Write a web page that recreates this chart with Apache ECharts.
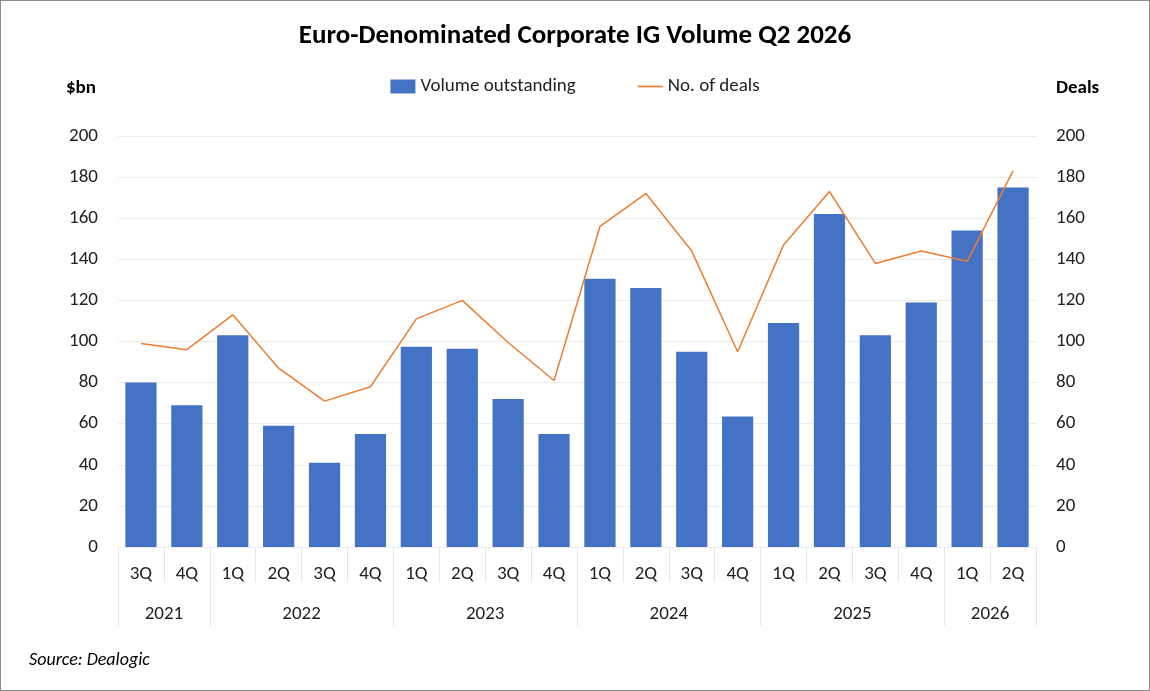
<!DOCTYPE html>
<html>
<head>
<meta charset="utf-8">
<script src="https://cdn.jsdelivr.net/npm/echarts@6/dist/echarts.min.js"></script>
<style>
html,body{margin:0;padding:0;background:#fff;}
#main{width:1148px;height:689px;border:1px solid #8c8c8c;}
</style>
</head>
<body>
<div id="main"></div>
<script>
var quarters = ['3Q','4Q','1Q','2Q','3Q','4Q','1Q','2Q','3Q','4Q','1Q','2Q','3Q','4Q','1Q','2Q','3Q','4Q','1Q','2Q'];
var years = ['2021','2022','2023','2024','2025','2026'];
// year label positions (in quarters from left edge) and year boundary indices
var yearCenters = [1, 4, 8, 12, 16, 19];
var yearBounds = [0, 2, 6, 10, 14, 18, 20];
var volume = [80, 69, 103, 59, 41, 55, 97.5, 96.5, 72, 55, 130.5, 126, 95, 63.5, 109, 162, 103, 119, 154, 175];
var deals = [99, 96, 113, 87, 71, 78, 111, 120, 99.5, 81, 156, 172, 144, 95, 147, 173, 138, 144, 139, 183];

var font = 'Calibri, Carlito, "Liberation Sans", sans-serif';
var chart = echarts.init(document.getElementById('main'));
chart.setOption({
    textStyle: {fontFamily: font},
    title: {
        text: 'Euro-Denominated Corporate IG Volume Q2 2026',
        left: 'center', top: 17,
        textStyle: {fontSize: 27, fontWeight: 'bold', color: '#000', fontFamily: font}
    },
    legend: {
        top: 71, left: 'center', itemGap: 62,
        textStyle: {fontSize: 19, color: '#222', fontFamily: font},
        data: [
            {name: 'Volume outstanding', icon: 'rect', itemWidth: 18, itemHeight: 15},
            {name: 'No. of deals', icon: 'path://M0,0h30v2h-30z', itemWidth: 22, itemHeight: 2}
        ]
    },
    grid: {left: 117, right: 113, top: 135, bottom: 143},
    xAxis: [{
        type: 'category', data: quarters, position: 'bottom',
        axisLine: {show: false},
        axisTick: {show: true, length: 35, lineStyle: {color: '#e6e6e6'}},
        axisLabel: {fontSize: 19, color: '#222', margin: 18}
    }, {
        type: 'category', data: quarters, position: 'bottom',
        axisLine: {show: false}, axisLabel: {show: false},
        axisTick: {show: true, length: 79, lineStyle: {color: '#e6e6e6'},
            interval: function (i) { return yearBounds.indexOf(i) >= 0; }}
    }, {
        type: 'value', min: 0, max: 20, interval: 1, position: 'bottom', offset: 40,
        axisLine: {show: false}, axisTick: {show: false}, splitLine: {show: false},
        axisLabel: {fontSize: 19, color: '#222', margin: 18, showMinLabel: true, showMaxLabel: true,
            formatter: function (v) { var k = yearCenters.indexOf(v); return k >= 0 ? years[k] : ''; }}
    }],
    yAxis: [{
        type: 'value', min: 0, max: 200, interval: 20,
        name: '$bn', nameLocation: 'end', nameGap: 38,
        nameTextStyle: {fontSize: 19, fontWeight: 'bold', color: '#000', align: 'right', padding: [0, 22, 0, 0]},
        axisLine: {show: false}, axisTick: {show: false},
        axisLabel: {fontSize: 19, color: '#222', margin: 20},
        splitLine: {lineStyle: {color: '#ececec'}}
    }, {
        type: 'value', min: 0, max: 200, interval: 20,
        name: 'Deals', nameLocation: 'end', nameGap: 38,
        nameTextStyle: {fontSize: 19, fontWeight: 'bold', color: '#000', align: 'left', padding: [0, 0, 0, 20]},
        axisLine: {show: false}, axisTick: {show: false},
        axisLabel: {fontSize: 19, color: '#222', margin: 20},
        splitLine: {show: false}
    }],
    series: [{
        name: 'Volume outstanding', type: 'bar', data: volume,
        barWidth: '68%', itemStyle: {color: '#4472c4'}
    }, {
        name: 'No. of deals', type: 'line', yAxisIndex: 1, data: deals,
        symbol: 'none', lineStyle: {color: '#ed7d31', width: 1.5}, itemStyle: {color: '#ed7d31'}
    }],
    graphic: [{
        type: 'text', left: 28, top: 650,
        style: {text: 'Source: Dealogic', font: 'italic 18px ' + font, fill: '#000'}
    }]
});
</script>
</body>
</html>
